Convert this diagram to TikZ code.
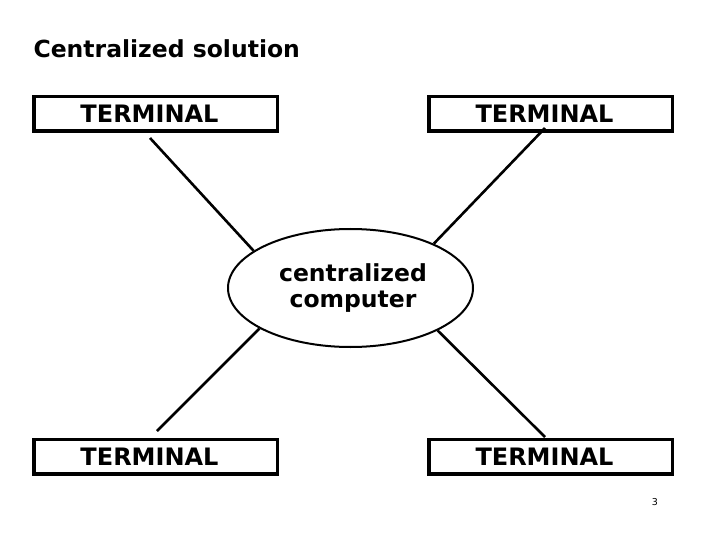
\documentclass[tikz,border=0pt]{standalone}
\usepackage{fontspec}
\setmainfont{DejaVu Sans}
\usetikzlibrary{shapes.geometric}
\tikzset{
  termbox/.style={draw, rectangle, line width=3.5pt, minimum width=243.5pt, minimum height=34.5pt, inner sep=0pt, font=\fontsize{24}{28}\selectfont\bfseries},
  hub/.style={draw, ellipse, line width=2pt, minimum width=245pt, minimum height=118pt, inner sep=0pt, align=center, font=\fontsize{23.5}{26.6}\selectfont\bfseries},
  link/.style={line width=2.6pt}
}
\begin{document}
\begin{tikzpicture}[x=1pt,y=-1pt]
\useasboundingbox (0,0) rectangle (720,540);
\node[anchor=base west, font=\fontsize{23.5}{28}\selectfont\bfseries] (title) at (30,58) {Centralized solution};
\node[termbox] (t1) at (155.5,114) {\hspace*{-12pt}TERMINAL};
\node[termbox] (t2) at (550.5,114) {\hspace*{-12pt}TERMINAL};
\node[termbox] (t3) at (155.5,456.5) {\hspace*{-12pt}TERMINAL};
\node[termbox] (t4) at (550.5,456.5) {\hspace*{-12pt}TERMINAL};
\node[hub] (cc) at (350.5,288) {\hspace*{5pt}centralized\\\hspace*{5pt}computer};
\coordinate (e1) at (150,138);
\coordinate (e2) at (545,128);
\coordinate (e3) at (157,431);
\coordinate (e4) at (545,437);
\draw[link] (e1) -- (cc.159.5);
\draw[link] (e2) -- (cc.28.6);
\draw[link] (e3) -- (cc.204.2);
\draw[link] (e4) -- (cc.334.4);
\node[font=\fontsize{9.5}{11}\selectfont] (pg) at (655,502) {3};
\end{tikzpicture}
\end{document}
